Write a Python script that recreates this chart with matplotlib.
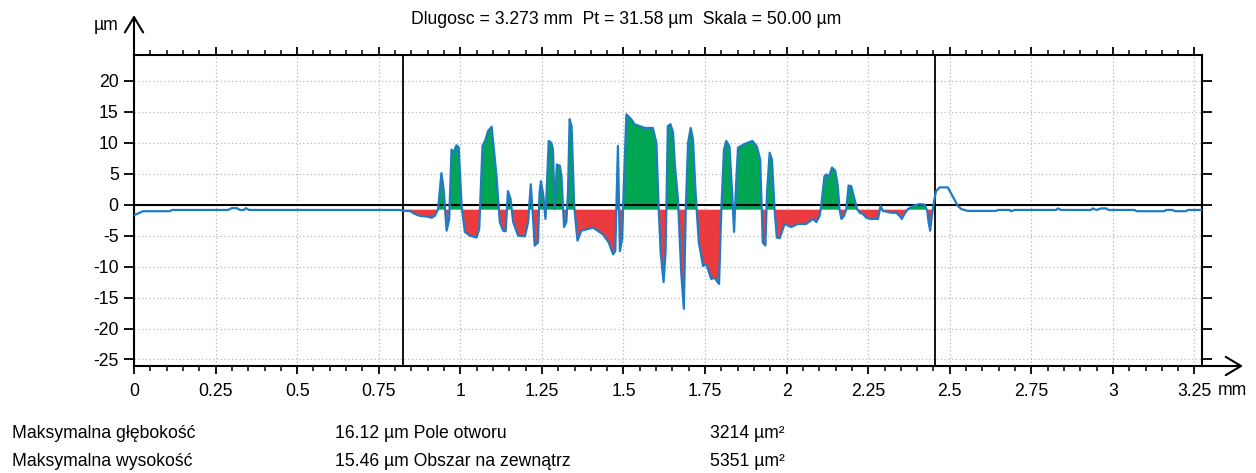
import matplotlib.pyplot as plt
from matplotlib.ticker import MultipleLocator, FixedLocator
import numpy as np

plt.rcParams['font.family'] = ['Liberation Sans', 'DejaVu Sans']
plt.rcParams['axes.unicode_minus'] = False

# profile: position [mm], height [µm]
x_mm = [0.000, 0.028, 0.110, 0.116, 0.288, 0.300, 0.315, 0.325, 0.337, 0.343, 0.352, 0.815,
        0.825, 0.845, 0.861, 0.876, 0.896, 0.912, 0.922, 0.932, 0.942, 0.949, 0.958, 0.966,
        0.973, 0.980, 0.988, 0.995, 1.004, 1.014, 1.029, 1.050, 1.058, 1.068, 1.078, 1.085,
        1.096, 1.103, 1.111, 1.121, 1.131, 1.139, 1.146, 1.154, 1.162, 1.177, 1.198, 1.208,
        1.216, 1.223, 1.228, 1.238, 1.243, 1.247, 1.254, 1.261, 1.271, 1.279, 1.284, 1.289,
        1.296, 1.305, 1.310, 1.318, 1.325, 1.330, 1.335, 1.341, 1.349, 1.359, 1.371, 1.407,
        1.437, 1.455, 1.468, 1.475, 1.483, 1.489, 1.496, 1.502, 1.509, 1.524, 1.534, 1.565,
        1.590, 1.601, 1.608, 1.614, 1.623, 1.629, 1.636, 1.644, 1.652, 1.657, 1.667, 1.677,
        1.685, 1.691, 1.698, 1.706, 1.713, 1.721, 1.731, 1.744, 1.754, 1.769, 1.779, 1.793,
        1.800, 1.808, 1.815, 1.825, 1.833, 1.839, 1.844, 1.851, 1.871, 1.895, 1.909, 1.919,
        1.927, 1.935, 1.940, 1.948, 1.955, 1.963, 1.970, 1.979, 1.994, 2.014, 2.035, 2.060,
        2.081, 2.091, 2.101, 2.106, 2.116, 2.122, 2.129, 2.139, 2.149, 2.157, 2.162, 2.168,
        2.176, 2.183, 2.190, 2.198, 2.208, 2.216, 2.224, 2.234, 2.244, 2.259, 2.280, 2.288,
        2.295, 2.321, 2.336, 2.346, 2.353, 2.361, 2.372, 2.387, 2.407, 2.423, 2.431, 2.435,
        2.440, 2.445, 2.453, 2.458, 2.469, 2.494, 2.525, 2.535, 2.555, 2.642, 2.647, 2.683,
        2.688, 2.698, 2.826, 2.831, 2.841, 2.933, 2.938, 2.949, 2.964, 2.979, 2.987, 3.066,
        3.073, 3.158, 3.163, 3.183, 3.191, 3.224, 3.230, 3.273]
z_um = [-1.7, -1.05, -1.05, -0.85, -0.85, -0.55, -0.55, -0.85, -0.85, -0.55, -0.85, -0.85,
        -1.0, -1.0, -1.5, -1.8, -1.9, -2.1, -1.8, -0.7, 5.1, 2.5, -4.2, -2.3,
        8.9, 8.5, 9.6, 9.3, -0.2, -4.4, -5.0, -5.3, -3.9, 9.5, 10.6, 11.9,
        12.6, 8.9, 4.6, -2.8, -4.2, -4.3, 2.2, 0.9, -2.8, -5.0, -5.1, -2.8,
        3.3, -2.3, -6.6, -6.1, 2.0, 3.8, 1.7, -2.3, 10.3, 10.0, 8.9, -0.7,
        6.5, 6.3, 4.6, -3.6, -2.8, 2.0, 13.8, 12.7, -0.2, -5.8, -4.2, -3.7,
        -4.8, -6.1, -8.0, -7.5, 9.5, -7.5, -5.5, 4.6, 14.6, 13.8, 13.0, 12.4,
        12.4, 10.0, -0.7, -7.7, -12.5, -7.7, 12.7, 13.0, 11.7, 6.8, 0.9, -10.9,
        -16.8, -0.7, 10.0, 12.4, 10.6, 2.0, -6.1, -9.9, -9.6, -12.0, -11.8, -12.8,
        -0.7, 8.9, 10.3, 9.4, 2.0, -4.4, 2.0, 9.2, 9.8, 10.3, 9.4, 7.3,
        -6.1, -6.6, 2.0, 8.4, 7.3, -0.7, -5.3, -5.4, -3.1, -3.6, -3.1, -3.1,
        -2.3, -2.8, -1.8, -0.2, 4.6, 4.9, 4.4, 6.0, 5.5, 3.0, -0.7, -2.3,
        -1.8, -0.7, 3.1, 3.0, 0.9, -0.7, -1.3, -1.5, -2.1, -2.3, -2.3, -0.2,
        -1.0, -1.3, -1.3, -1.8, -2.3, -1.5, -0.7, -0.2, 0.1, 0.0, -1.0, -2.8,
        -4.2, -1.8, 0.9, 2.2, 2.8, 2.8, -0.2, -0.7, -1.0, -1.0, -0.85, -0.85,
        -1.05, -0.85, -0.85, -0.6, -0.85, -0.85, -0.6, -0.85, -0.6, -0.6, -0.85, -0.85,
        -1.05, -1.05, -0.85, -0.85, -1.05, -1.05, -0.85, -0.85]

x_marks = [0.824, 2.456]   # analysed section
base_level = -0.8
length_mm = 3.273

title = "Dlugosc = 3.273 mm  Pt = 31.58 µm  Skala = 50.00 µm"
stats_labels = ["Maksymalna głębokość", "Maksymalna wysokość"]
stats_values = ["16.12 µm Pole otworu", "15.46 µm Obszar na zewnątrz"]
stats_areas = ["3214 µm²", "5351 µm²"]

FS = 12.7
W, H = 1256, 473
fig = plt.figure(figsize=(W / 100, H / 100), dpi=100)
ax = fig.add_axes([134 / W, 1 - 366 / H, (1202 - 134) / W, (366 - 55.5) / H])

x = np.array(x_mm)
z = np.array(z_um)
inside = (x >= x_marks[0]) & (x <= x_marks[1])
ax.fill_between(x, z, base_level, where=inside & (z >= base_level), interpolate=True,
                color='#00a651', lw=0, zorder=2)
ax.fill_between(x, z, base_level, where=inside & (z <= base_level), interpolate=True,
                color='#ec3b3f', lw=0, zorder=2)
ax.axhline(0, color='black', lw=1.5, zorder=3)
for xm in x_marks:
    ax.axvline(xm, color='black', lw=1.3, zorder=3)
ax.plot(x, z, color='#1f7cc4', lw=1.6, zorder=4)

ax.set_xlim(0, length_mm)
ax.set_ylim(-26.05, 24.1)
ax.xaxis.set_major_locator(MultipleLocator(0.25))
ax.xaxis.set_minor_locator(MultipleLocator(0.05))
ax.yaxis.set_major_locator(FixedLocator([20, 15, 10, 5, 0, -5, -10, -15, -20, -25]))
ax.set_xticklabels([f"{v:g}" for v in ax.get_xticks()])
ax.grid(True, which='major', color='#b8b8b8', ls=(0, (1, 2)), lw=0.9)
ax.set_axisbelow(True)

for s in ax.spines.values():
    s.set_linewidth(1.5)
ax.tick_params(axis='x', which='major', direction='out', length=6, width=1.3,
               top=True, labelsize=FS, pad=6.5)
ax.tick_params(axis='x', which='minor', direction='out', length=3.5, width=1.1, top=True)
ax.tick_params(axis='y', which='major', direction='out', length=7, width=1.3,
               right=True, labelsize=FS, pad=4)

# axis arrows
arrow = dict(arrowstyle='->,head_length=0.55,head_width=0.33', lw=1.5, color='black',
             mutation_scale=20, shrinkA=0, shrinkB=0)
ax.annotate('', xy=(0, 1.13), xytext=(0, 1), xycoords='axes fraction', arrowprops=arrow)
ax.annotate('', xy=(1.0384, 0), xytext=(1, 0), xycoords='axes fraction', arrowprops=arrow)

fig.text(118 / W, 1 - 26 / H, "µm", ha='right', va='center', fontsize=FS)
fig.text(1218 / W, 1 - 390 / H, "mm", ha='left', va='center', fontsize=FS)
fig.text(626 / W, 1 - 20 / H, title, ha='center', va='center', fontsize=FS)

for i, yb in enumerate([438, 466]):
    fig.text(12 / W, 1 - yb / H, stats_labels[i], ha='left', va='baseline', fontsize=FS)
    fig.text(335 / W, 1 - yb / H, stats_values[i], ha='left', va='baseline', fontsize=FS)
    fig.text(710 / W, 1 - yb / H, stats_areas[i], ha='left', va='baseline', fontsize=FS)

fig.savefig('out.png', dpi=100)
